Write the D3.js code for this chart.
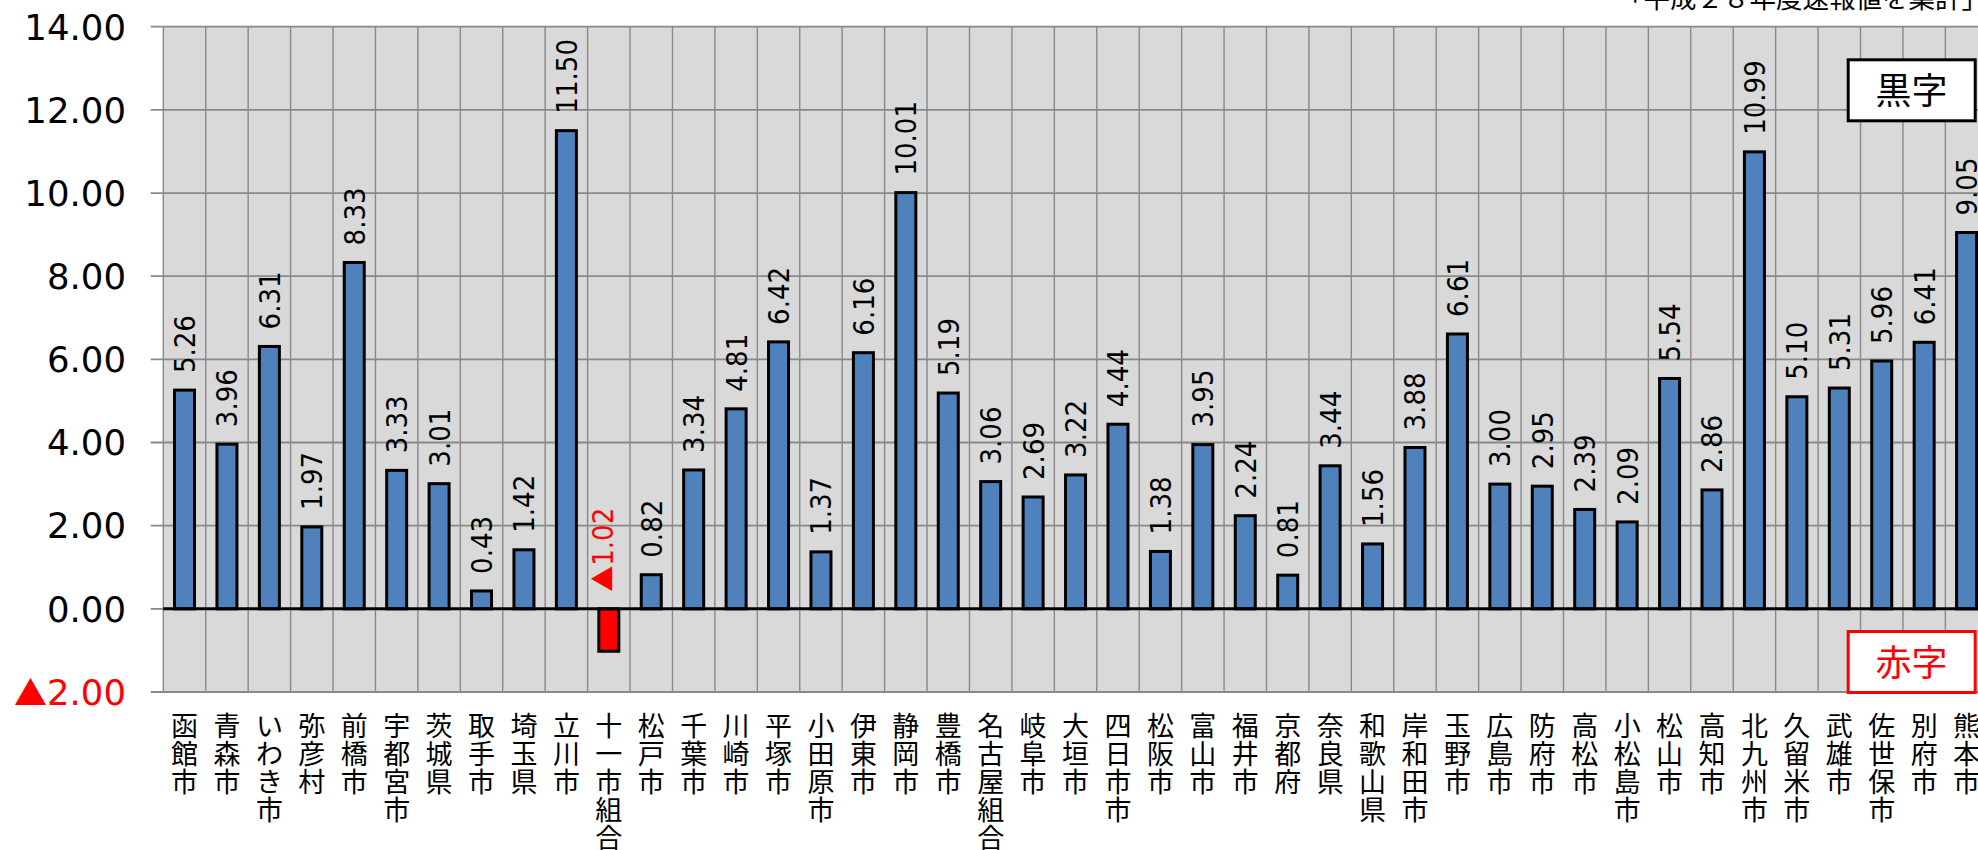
<!DOCTYPE html>
<html>
<head>
<meta charset="utf-8">
<script src="https://cdn.jsdelivr.net/npm/d3@7"></script>
<style>
	body { margin: 0; background: #fff; }
	svg { display: block; }
</style>
</head>
<body>
<div id="chart"></div>
<script>
// data
var categories = ["函館市","青森市","いわき市","弥彦村","前橋市","宇都宮市","茨城県","取手市","埼玉県","立川市",
	"十一市組合","松戸市","千葉市","川崎市","平塚市","小田原市","伊東市","静岡市","豊橋市","名古屋組合",
	"岐阜市","大垣市","四日市市","松阪市","富山市","福井市","京都府","奈良県","和歌山県","岸和田市",
	"玉野市","広島市","防府市","高松市","小松島市","松山市","高知市","北九州市","久留米市","武雄市",
	"佐世保市","別府市","熊本市"];
var values = [5.26,3.96,6.31,1.97,8.33,3.33,3.01,0.43,1.42,11.50,
	-1.02,0.82,3.34,4.81,6.42,1.37,6.16,10.01,5.19,3.06,
	2.69,3.22,4.44,1.38,3.95,2.24,0.81,3.44,1.56,3.88,
	6.61,3.00,2.95,2.39,2.09,5.54,2.86,10.99,5.10,5.31,
	5.96,6.41,9.05];
var yTicks = [-2,0,2,4,6,8,10,12,14];
var note = "「平成２８年度速報値を集計」";
var blackLabel = "黒字", redLabel = "赤字";

var width = 1978, height = 850;
var pLeft = 163.3, pRight = 1987.8, pTop = 26.7, pBottom = 692;

var svg = d3.select("#chart")
	.append("svg")
	.attr("width", width)
	.attr("height", height);

var x = d3.scaleBand().domain(categories).range([pLeft, pRight]).paddingInner(0).paddingOuter(0);
var y = d3.scaleLinear().domain([-2, 14]).range([pBottom, pTop]);
var bw = 20;

// negative numbers are written with a leading triangle
function fmt(sel, v, triSize) {
	if (v < 0) {
		sel.append("tspan")
			.style("font-family", "'Noto Sans CJK JP'")
			.style("font-size", triSize)
			.text("▲");
	}
	sel.append("tspan").text(Math.abs(v).toFixed(2));
}

// background
svg.append("rect")
	.attr("x", pLeft).attr("y", pTop)
	.attr("width", pRight - pLeft).attr("height", pBottom - pTop)
	.attr("fill", "#d9d9d9");

// vertical grid (category boundaries)
svg.append("g")
	.selectAll("line")
	.data(categories)
	.enter().append("line")
	.attr("x1", function(d) { return x(d); })
	.attr("x2", function(d) { return x(d); })
	.attr("y1", pTop).attr("y2", pBottom)
	.attr("stroke", "#898989")
	.attr("stroke-width", 1.4);

// horizontal grid + left ticks
svg.append("g")
	.selectAll("line")
	.data(yTicks)
	.enter().append("line")
	.attr("x1", pLeft - 12.6).attr("x2", pRight)
	.attr("y1", function(d) { return y(d); })
	.attr("y2", function(d) { return y(d); })
	.attr("stroke", "#898989")
	.attr("stroke-width", 1.8);

// y labels
svg.append("g")
	.selectAll("text")
	.data(yTicks)
	.enter().append("text")
	.attr("x", 126)
	.attr("y", function(d) { return y(d) + 12.8; })
	.style("text-anchor", "end")
	.style("font-family", "'DejaVu Sans'")
	.style("font-size", "35.5px")
	.attr("fill", function(d) { return d < 0 ? "#ff0000" : "#000"; })
	.each(function(d) { fmt(d3.select(this), d, "33px"); });

// bars
svg.append("g")
	.selectAll("rect")
	.data(values)
	.enter().append("rect")
	.attr("x", function(d, i) { return x(categories[i]) + x.bandwidth() / 2 - bw / 2; })
	.attr("y", function(d) { return y(Math.max(d, 0)); })
	.attr("width", bw)
	.attr("height", function(d) { return Math.abs(y(d) - y(0)); })
	.attr("fill", function(d) { return d < 0 ? "#ff0000" : "#4f81bd"; })
	.attr("stroke", "#000")
	.attr("stroke-width", 3);

// zero axis
svg.append("line")
	.attr("x1", pLeft).attr("x2", pRight)
	.attr("y1", y(0)).attr("y2", y(0))
	.attr("stroke", "#000")
	.attr("stroke-width", 3);

// value labels
svg.append("g")
	.selectAll("text")
	.data(values)
	.enter().append("text")
	.attr("transform", function(d, i) {
		var cx = x(categories[i]) + x.bandwidth() / 2 + (d < 0 ? -6 : 0);
		return "translate(" + cx + "," + (y(Math.max(d, 0)) - 17) + ") rotate(-90)";
	})
	.attr("y", "0.36em")
	.style("text-anchor", "start")
	.style("font-family", "'DejaVu Sans Condensed', 'Liberation Sans'")
	.style("font-size", "29px")
	.attr("fill", function(d) { return d < 0 ? "#ff0000" : "#000"; })
	.each(function(d) { fmt(d3.select(this), d, "26px"); });

// category labels (vertical)
var cat = svg.append("g")
	.selectAll("text")
	.data(categories)
	.enter().append("text")
	.style("font-family", "'Noto Sans CJK JP'")
	.style("font-size", "27px")
	.style("text-anchor", "middle")
	.attr("fill", "#000");
cat.each(function(d) {
	var cx = x(d) + x.bandwidth() / 2;
	var t = d3.select(this);
	d.split("").forEach(function(c, k) {
		t.append("tspan")
			.attr("x", cx)
			.attr("y", 735.5 + k * 28.2)
			.text(c);
	});
});

// note
svg.append("text")
	.attr("x", 1988)
	.attr("y", 8)
	.style("text-anchor", "end")
	.style("font-family", "'Noto Sans CJK JP'")
	.style("font-size", "26.5px")
	.text(note);

// legend boxes
function box(y0, col, label) {
	svg.append("rect")
		.attr("x", 1848.2).attr("y", y0)
		.attr("width", 127).attr("height", 61)
		.attr("fill", "#fff")
		.attr("stroke", col)
		.attr("stroke-width", 3);
	svg.append("text")
		.attr("x", 1911.5).attr("y", y0 + 30.5 + 13.5)
		.style("text-anchor", "middle")
		.style("font-family", "'Noto Sans CJK JP'")
		.style("font-size", "36px")
		.attr("fill", col)
		.text(label);
}
box(59.8, "#000", blackLabel);
box(631.5, "#ff0000", redLabel);
</script>
</body>
</html>
